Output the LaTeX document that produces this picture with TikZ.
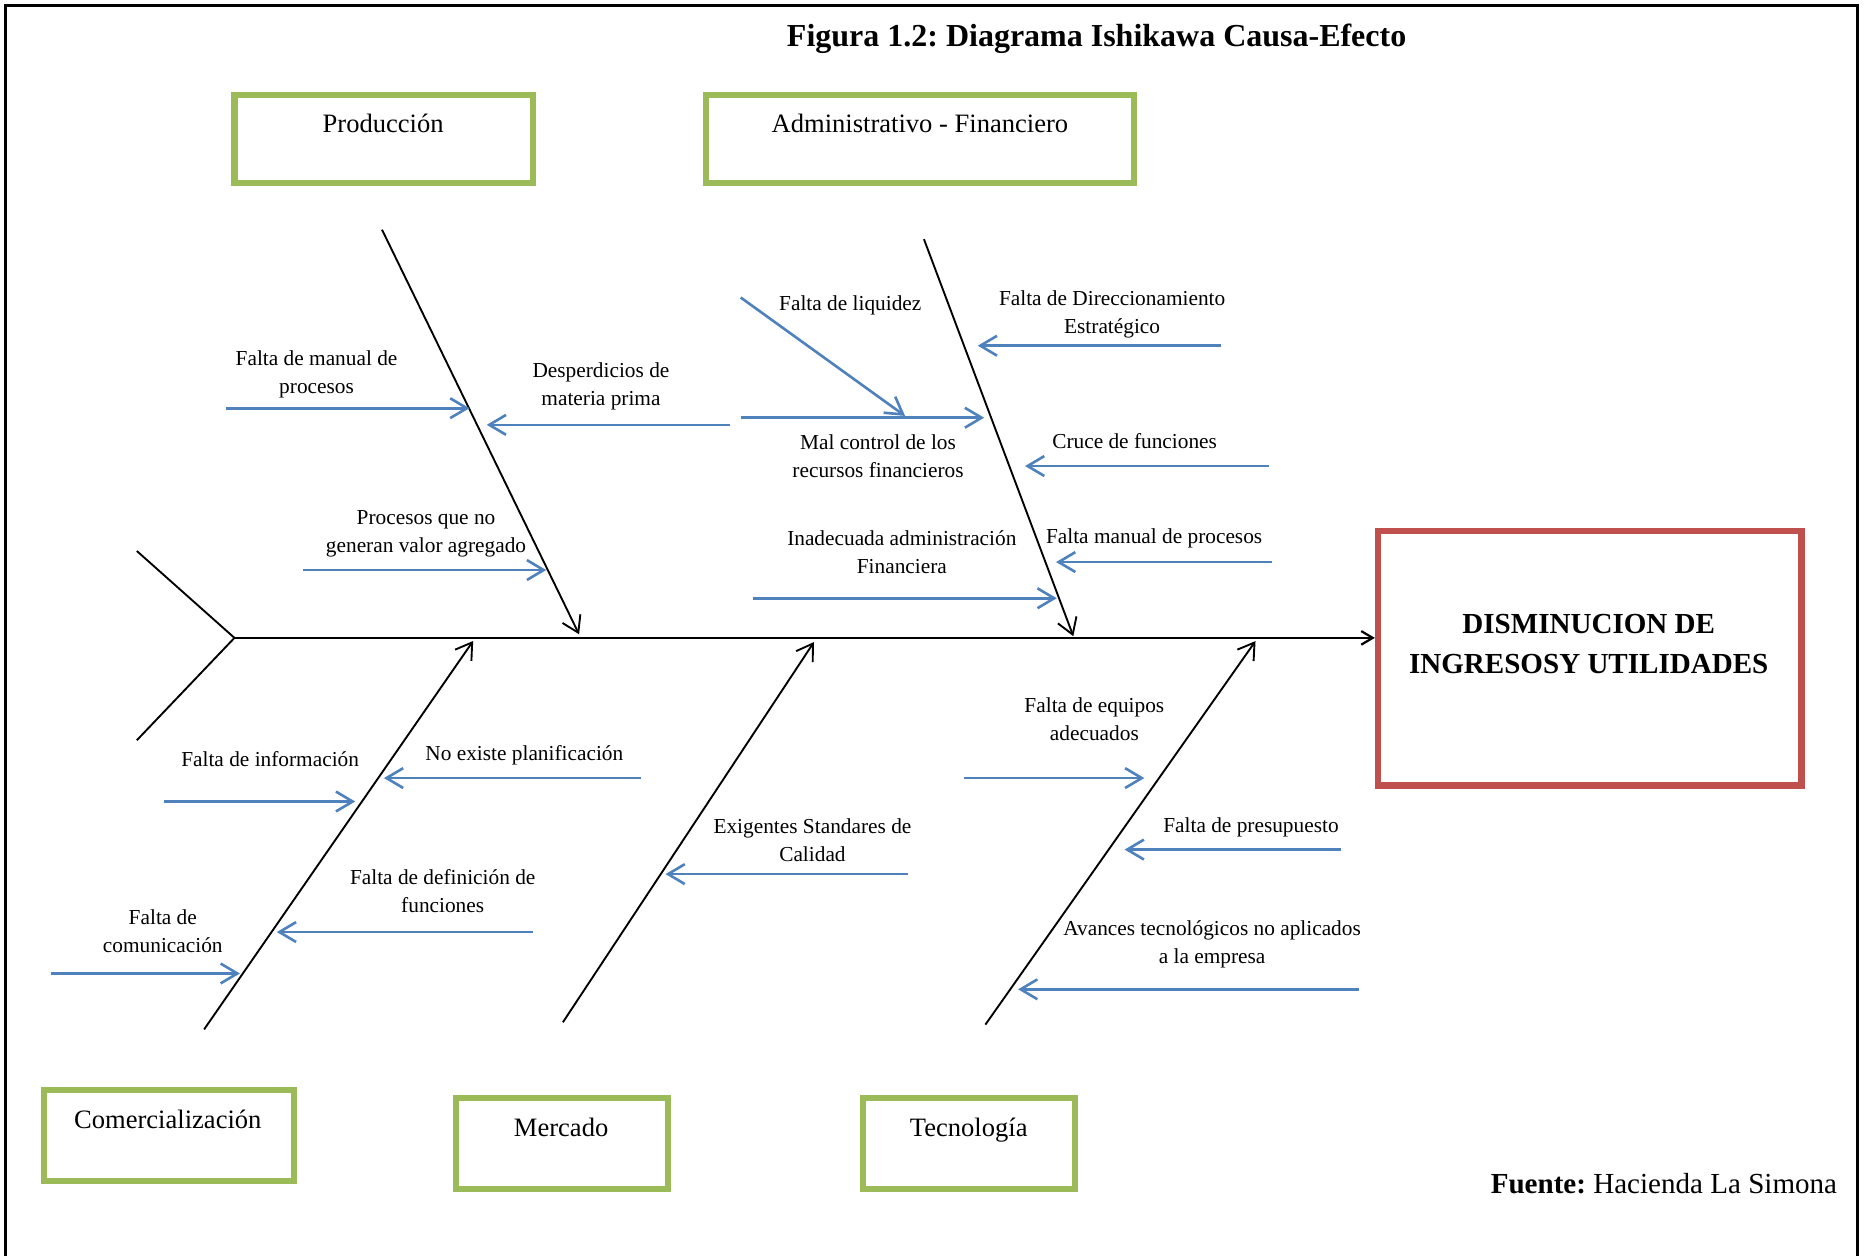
\documentclass[tikz,border=0pt]{standalone}
\usepackage{fontspec}
\setmainfont{Liberation Serif}
\usetikzlibrary{arrows.meta}
\definecolor{boxgreen}{HTML}{9BBB59}
\definecolor{effred}{HTML}{C0504D}
\definecolor{causeblue}{HTML}{4F81BD}
\frenchspacing

\begin{document}
\begin{tikzpicture}[x=0.02cm, y=-0.02cm,
  frameline/.style={line width=1.5pt, black},
  catbox/.style={draw=boxgreen, line width=2.9pt, inner sep=0pt},
  cattext/.style={anchor=base, inner sep=0pt, font=\fontsize{12.7}{15}\selectfont},
  effbox/.style={draw=effred, line width=3.1pt, inner sep=0pt},
  efftext/.style={align=center, inner sep=0pt, font=\bfseries\fontsize{13.9}{19}\selectfont},
  causetext/.style={align=center, inner sep=0pt, font=\fontsize{10.2}{13.4}\selectfont},
  bone/.style={line width=0.9pt, black, -{Straight Barb[length=7.5pt,width=9.5pt]}},
  spine/.style={line width=1.05pt, black, -{Straight Barb[length=5.5pt,width=6.5pt]}},
  tailline/.style={line width=0.9pt, black, line join=miter},
  cause/.style={draw=causeblue, line width=1.25pt, -{Straight Barb[length=8pt,width=9.5pt]}}
]
\useasboundingbox (0,0) rectangle (1568,1055);

% page frame (open at the bottom)
\draw[frameline] (4.5,1060) -- (4.5,4.5) -- (1561,4.5) -- (1561,1060);

% title and source
\node[anchor=base, inner sep=0pt, font=\bfseries\fontsize{15.3}{18}\selectfont] (title)
  at (921.5,38.7) {Figura 1.2: Diagrama Ishikawa Causa-Efecto};
\node[anchor=base east, inner sep=0pt, font=\fontsize{13.9}{16}\selectfont] (source)
  at (1544,1003) {\textbf{Fuente:} Hacienda La Simona};

% category boxes
\node[catbox, minimum width=5.02cm, minimum height=1.48cm] (prodbox) at (322.5,117) {};
\node[cattext] (prod) at (322,111) {Producción};
\node[catbox, minimum width=7.2cm, minimum height=1.48cm] (adminbox) at (773,117) {};
\node[cattext] (admin) at (773,111) {Administrativo - Financiero};
\node[catbox, minimum width=4.2cm, minimum height=1.52cm] (combox) at (142,954) {};
\node[cattext] (com) at (141,948) {Comercialización};
\node[catbox, minimum width=3.56cm, minimum height=1.52cm] (mercbox) at (472,961) {};
\node[cattext] (merc) at (471.5,955) {Mercado};
\node[catbox, minimum width=3.56cm, minimum height=1.52cm] (tecbox) at (814,961) {};
\node[cattext] (tec) at (814,955) {Tecnología};

% effect box
\node[effbox, minimum width=7.12cm, minimum height=4.28cm] (effect) at (1336,553) {};
\node[efftext] (efflabel) at (1335,541) {DISMINUCION DE\\INGRESOSY UTILIDADES};

% spine and tail
\coordinate (head) at (197,536);
\coordinate (tailA) at (115,463);
\coordinate (tailB) at (115,622);
\draw[tailline] (tailA) -- (head) -- (tailB);
\draw[spine] (head) -- (head -| effect.west);

% main bones
\coordinate (pA) at (321,193);     \coordinate (pB) at (486.6,533);
\coordinate (aA) at (776.4,201);   \coordinate (aB) at (901.9,534.6);
\coordinate (cA) at (171.5,865);   \coordinate (cB) at (397.6,538.6);
\coordinate (mA) at (473,859);     \coordinate (mB) at (684,539.5);
\coordinate (tA) at (828,861);     \coordinate (tB) at (1055,538.7);
\draw[bone] (pA) -- (pB);
\draw[bone] (aA) -- (aB);
\draw[bone] (cA) -- (cB);
\draw[bone] (mA) -- (mB);
\draw[bone] (tA) -- (tB);

% --- Produccion causes
\coordinate (p1a) at (190,343);    \coordinate (p1b) at (394.5,343);
\coordinate (p2a) at (613,357);    \coordinate (p2b) at (409,357);
\coordinate (p3a) at (255,479);    \coordinate (p3b) at (459,479);
\draw[cause] (p1a) -- (p1b);
\draw[cause] (p2a) -- (p2b);
\draw[cause] (p3a) -- (p3b);
\node[causetext] (p1) at (266,314.5) {Falta de manual de\\procesos};
\node[causetext] (p2) at (505,325) {Desperdicios de\\materia prima};
\node[causetext] (p3) at (358,448.7) {Procesos que no\\generan valor agregado};

% --- Administrativo - Financiero causes
\coordinate (a1a) at (622.4,250);  \coordinate (a1b) at (760.5,349.5);
\coordinate (a2a) at (622.4,351);  \coordinate (a2b) at (827,351);
\coordinate (a3a) at (633,502.7);  \coordinate (a3b) at (888,502.7);
\coordinate (a4a) at (1025.6,290.5); \coordinate (a4b) at (821.6,290.5);
\coordinate (a5a) at (1066.4,391.6); \coordinate (a5b) at (861.3,391.6);
\coordinate (a6a) at (1069,472.3);   \coordinate (a6b) at (887.4,472.3);
\draw[cause] (a1a) -- (a1b);
\draw[cause] (a2a) -- (a2b);
\draw[cause] (a3a) -- (a3b);
\draw[cause] (a4a) -- (a4b);
\draw[cause] (a5a) -- (a5b);
\draw[cause] (a6a) -- (a6b);
\node[causetext, anchor=base] (a1) at (714.5,261) {Falta de liquidez};
\node[causetext] (a2) at (737.8,383.3) {Mal control de los\\recursos financieros};
\node[causetext] (a3) at (757.8,463.7) {Inadecuada administración\\Financiera};
\node[causetext] (a4) at (934.5,263.9) {Falta de Direccionamiento\\Estratégico};
\node[causetext, anchor=base] (a5) at (953.4,376.5) {Cruce de funciones};
\node[causetext, anchor=base] (a6) at (969.8,457) {Falta manual de procesos};

% --- Comercializacion causes
\coordinate (c1a) at (138,673.5);  \coordinate (c1b) at (298.5,673.5);
\coordinate (c2a) at (538.7,653.8); \coordinate (c2b) at (322.6,653.8);
\coordinate (c3a) at (448,783.2);  \coordinate (c3b) at (232.6,783.2);
\coordinate (c4a) at (42.5,818);   \coordinate (c4b) at (201.6,818);
\draw[cause] (c1a) -- (c1b);
\draw[cause] (c2a) -- (c2b);
\draw[cause] (c3a) -- (c3b);
\draw[cause] (c4a) -- (c4b);
\node[causetext, anchor=base] (c1) at (227,644.3) {Falta de información};
\node[causetext, anchor=base] (c2) at (440.6,639.3) {No existe planificación};
\node[causetext] (c3) at (372,748.4) {Falta de definición de\\funciones};
\node[causetext] (c4) at (136.8,782.6) {Falta de\\comunicación};

% --- Mercado causes
\coordinate (m1a) at (763,734.5);  \coordinate (m1b) at (559.2,734.5);
\draw[cause] (m1a) -- (m1b);
\node[causetext] (m1) at (682.7,705.6) {Exigentes Standares de\\Calidad};

% --- Tecnologia causes
\coordinate (t1a) at (810,653.8);  \coordinate (t1b) at (961.6,653.8);
\coordinate (t2a) at (1126.6,713.9); \coordinate (t2b) at (945,713.9);
\coordinate (t3a) at (1142,831.3); \coordinate (t3b) at (855.5,831.3);
\draw[cause] (t1a) -- (t1b);
\draw[cause] (t2a) -- (t2b);
\draw[cause] (t3a) -- (t3b);
\node[causetext] (t1) at (919.6,604.5) {Falta de equipos\\adecuados};
\node[causetext, anchor=base] (t2) at (1051.2,699.8) {Falta de presupuesto};
\node[causetext] (t3) at (1018.5,793.6) {Avances tecnológicos no aplicados\\a la empresa};

\end{tikzpicture}
\end{document}
